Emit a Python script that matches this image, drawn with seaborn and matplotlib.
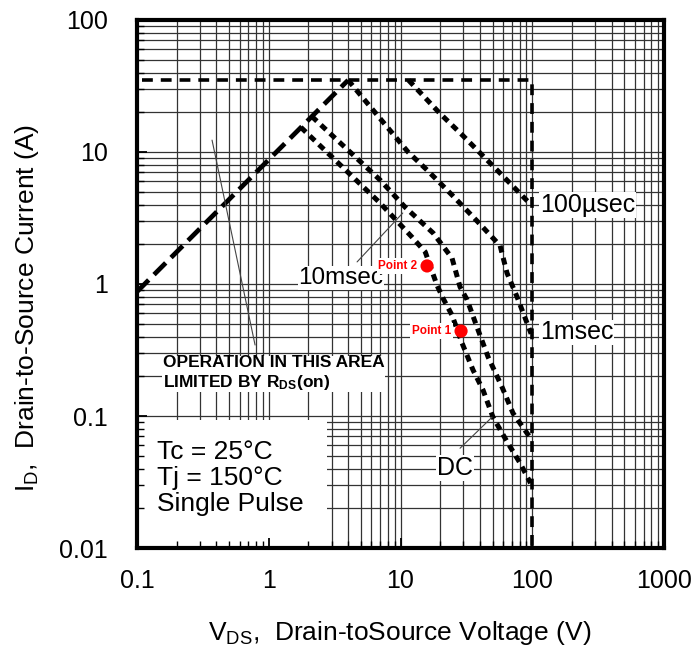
import seaborn as sns
import matplotlib.pyplot as plt
from matplotlib.patches import Rectangle

sns.set_theme(style="white")
plt.rcParams['font.family'] = ['Liberation Sans', 'DejaVu Sans']
plt.rcParams['mathtext.fontset'] = 'custom'
plt.rcParams['mathtext.rm'] = 'Liberation Sans'
plt.rcParams['mathtext.bf'] = 'Liberation Sans:bold'
plt.rcParams['mathtext.it'] = 'Liberation Sans:italic'
plt.rcParams['text.color'] = 'black'
plt.rcParams['xtick.color'] = 'black'
plt.rcParams['ytick.color'] = 'black'

# safe operating area, V_DS (V) vs I_D (A)
rds_v = [0.1, 4.0]
rds_i = [0.875, 35.0]

limit_v = [0.11, 100, 100]
limit_i = [35.0, 35.0, 0.01]

us100_v = [11.5, 20.0, 29.3, 54.0, 92.9]
us100_i = [35.0, 19.5, 13.5, 7.3, 4.2]

ms1_v = [4.0, 11.4, 15.9, 24.6, 38.7, 57.0, 64.3, 76.6, 98.0]
ms1_i = [35.0, 10.0, 7.3, 4.72, 2.95, 1.95, 1.21, 0.80, 0.42]

ms10_v = [2.12, 6.99, 10.8, 17.7, 24.6, 28.3, 32.0, 38.1, 46.2, 58.9, 71.4, 95.0]
ms10_i = [18.6, 6.14, 3.83, 2.43, 1.57, 0.95, 0.76, 0.47, 0.28, 0.166, 0.105, 0.07]

dc_v = [1.75, 6.99, 12.2, 15.4, 18.9, 21.0, 24.6, 29.3, 35.5, 42.3, 50.3, 65.5, 80.8, 97.0]
dc_i = [15.4, 4.11, 2.27, 1.75, 0.98, 0.78, 0.58, 0.357, 0.223, 0.157, 0.098, 0.062, 0.044, 0.031]

point_v = [28.8, 15.9]
point_i = [0.44, 1.37]
point_names = ["Point 1", "Point 2"]

xticks = [0.1, 1, 10, 100, 1000]
xtick_labels = ["0.1", "1", "10", "100", "1000"]
yticks = [0.01, 0.1, 1, 10, 100]
ytick_labels = ["0.01", "0.1", "1", "10", "100"]

fig = plt.figure(figsize=(6.97, 6.51), dpi=100)
pos = [0.1966, 0.1582, 0.7561, 0.8111]
ax = fig.add_axes(pos)
ax.set_xscale('log')
ax.set_yscale('log')
ax.set_xlim(0.1, 1000)
ax.set_ylim(0.01, 100)
ax.set_axisbelow(True)
ax.grid(which='both', color='#333333', lw=0.9)

# white panel behind the test conditions
ax.add_patch(Rectangle((0, 0), 0.36, 0.243, transform=ax.transAxes,
                       facecolor='white', edgecolor='none', zorder=1))


def draw(xs, ys, lw, dashes):
    sns.lineplot(x=xs, y=ys, ax=ax, color='black', lw=lw, sort=False,
                 estimator=None, zorder=3)
    ax.lines[-1].set_dashes(dashes)


draw(rds_v, rds_i, 3.4, (3.5, 1.6))
draw(limit_v, limit_i, 2.6, (3.0, 2.2))
draw(us100_v, us100_i, 3.6, (1.4, 1.1))
draw(ms1_v, ms1_i, 3.6, (1.4, 1.1))
draw(ms10_v, ms10_i, 3.6, (1.4, 1.1))
draw(dc_v, dc_i, 3.6, (1.4, 1.1))

sns.scatterplot(x=point_v, y=point_i, ax=ax, color='red', s=90,
                edgecolor='none', zorder=5)
for v, i, name in zip(point_v, point_i, point_names):
    ax.annotate(name, (v, i), xytext=(-7, 0), textcoords='offset points',
                ha='right', va='center', color='red', fontsize=8.5,
                fontweight='bold', zorder=6,
                bbox=dict(facecolor='white', edgecolor='none', pad=1.2))

# curve labels
lab = dict(fontsize=18, va='center', zorder=4,
           bbox=dict(facecolor='white', edgecolor='none', pad=0.5))
ax.text(114, 3.96, "100µsec", ha='left', **lab)
ax.text(114, 0.43, "1msec", ha='left', **lab)
ax.text(1.68, 1.11, "10msec", ha='left', **{**lab, 'fontsize': 17.5})
ax.text(18.9, 0.0404, "DC", ha='left', **lab)

# leader lines
ax.plot([4.68, 10.4], [1.47, 3.45], color='#444444', lw=0.8, zorder=3)
ax.plot([28.3, 49.5], [0.057, 0.098], color='#444444', lw=0.8, zorder=3)
ax.plot([0.787, 0.371], [0.345, 12.3], color='#444444', lw=0.8, zorder=3)

ax.text(0.049, 0.366, "OPERATION IN THIS AREA\nLIMITED BY R$_\\mathbf{DS}$(on)",
        transform=ax.transAxes, fontsize=12.5, fontweight='bold', va='top',
        ha='left', linespacing=1.2, zorder=4,
        bbox=dict(facecolor='white', edgecolor='none', pad=0.5))

ax.text(0.038, 0.205, "Tc = 25°C\nTj = 150°C\nSingle Pulse",
        transform=ax.transAxes, fontsize=19, va='top', ha='left',
        linespacing=1.12, zorder=4)

ax.set_xticks(xticks, xtick_labels)
ax.set_yticks(yticks, ytick_labels)
ax.tick_params(which='both', length=0, labelsize=18)
ax.tick_params(axis='x', pad=15)
ax.tick_params(axis='y', pad=21)
ax.set_xlabel('')
ax.set_ylabel('')
for s in ax.spines.values():
    s.set_visible(False)

# frame and inward ticks drawn over everything
ax_t = fig.add_axes(pos, facecolor='none')
ax_t.set_xscale('log')
ax_t.set_yscale('log')
ax_t.set_xlim(0.1, 1000)
ax_t.set_ylim(0.01, 100)
ax_t.grid(False)
ax_t.tick_params(which='both', direction='in', bottom=True, left=True,
                 labelbottom=False, labelleft=False, color='black')
ax_t.tick_params(which='major', length=7, width=1.3)
ax_t.tick_params(which='minor', length=5, width=1.0)
for s in ax_t.spines.values():
    s.set_linewidth(3)
    s.set_color('black')

fig.text(400 / 697, 1 - 633 / 651, "V$_{\\rm DS}$,  Drain-toSource Voltage (V)",
         ha='center', va='center', fontsize=19)
fig.text(27 / 697, 1 - 308 / 651, "I$_{\\rm D}$,  Drain-to-Source Current (A)",
         ha='center', va='center', rotation=90, fontsize=19)

fig.savefig('out.png', dpi=100)
